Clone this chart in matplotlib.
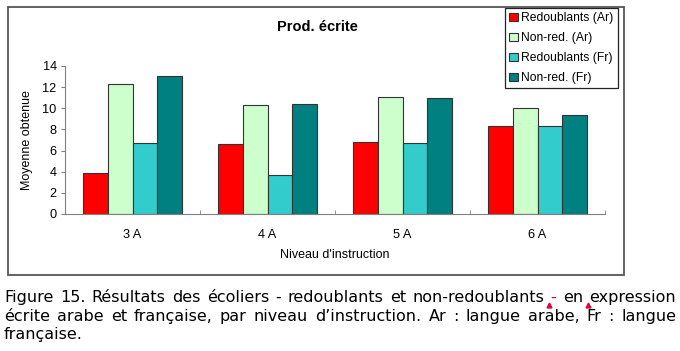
"""Prod. écrite — grouped bars by school level, with the figure caption below."""

import matplotlib

matplotlib.use("Agg")
import matplotlib.pyplot as plt
from matplotlib.lines import Line2D
from matplotlib.patches import Rectangle

levels = ["3 A", "4 A", "5 A", "6 A"]
series = ["Redoublants (Ar)", "Non-red. (Ar)", "Redoublants (Fr)", "Non-red. (Fr)"]
redoublants_ar = [3.9, 6.6, 6.85, 8.3]
nonred_ar = [12.3, 10.3, 11.1, 10.05]
redoublants_fr = [6.75, 3.7, 6.75, 8.3]
nonred_fr = [13.1, 10.4, 10.95, 9.35]
colors = ["#ff0000", "#ccffcc", "#33cccc", "#008080"]

caption_lines = [
    "Figure 15. Résultats des écoliers - redoublants et non-redoublants - en expression",
    "écrite arabe et française, par niveau d’instruction. Ar : langue arabe, Fr : langue",
    "française.",
]

W, H = 680, 351
fig = plt.figure(figsize=(W / 100, H / 100), dpi=100)
plt.rcParams["font.family"] = ["Liberation Sans", "DejaVu Sans"]

# chart frame
fig.add_artist(Rectangle((8 / W, 1 - 275 / H), 616 / W, 268 / H, transform=fig.transFigure,
                         fill=False, edgecolor="#555555", lw=1.3))

ax = fig.add_axes([65 / W, 1 - 214 / H, 540 / W, 148 / H])
w = 0.182
x = range(len(levels))
for i, (vals, lab) in enumerate(zip([redoublants_ar, nonred_ar, redoublants_fr, nonred_fr], series)):
    ax.bar([k + (i - 1.5) * w for k in x], vals, w, color=colors[i], edgecolor="#333333",
           lw=0.8, label=lab)

ax.set_xlim(-0.5, len(levels) - 0.5)
ax.set_ylim(0, 14)
ax.set_yticks(range(0, 15, 2))
ax.set_xticks(list(x))
ax.set_xticklabels(levels)
ax.set_xticks([k + 0.5 for k in x], minor=True)
ax.tick_params(axis="x", which="major", length=0, pad=11, labelsize=9.2)
ax.tick_params(axis="x", which="minor", direction="in", length=3, color="#808080")
ax.tick_params(axis="y", length=3, color="#808080", labelsize=9.2, pad=3)
for s in ["top", "right"]:
    ax.spines[s].set_visible(False)
for s in ["left", "bottom"]:
    ax.spines[s].set_color("#808080")

ax.set_ylabel("Moyenne obtenue", fontsize=9, labelpad=7)
fig.text(335 / W, 1 - 255 / H, "Niveau d'instruction", ha="center", va="center", fontsize=9)
fig.text(317 / W, 1 - 27 / H, "Prod. écrite", ha="center", va="center", fontsize=10.5,
         fontweight="bold")

leg = ax.legend(loc="upper left", bbox_to_anchor=(505 / W, 1 - 8 / H),
                bbox_transform=fig.transFigure, fontsize=8.7, frameon=True, fancybox=False,
                edgecolor="#222222", framealpha=1, handlelength=0.7, handleheight=0.7,
                handletextpad=0.3, labelspacing=0.66, borderpad=0.35, borderaxespad=0)
leg.get_frame().set_linewidth(0.9)


def justify(words, y, x0=4, x1=676, last=False):
    renderer = fig.canvas.get_renderer()
    texts = []
    for wd in words:
        col = "#e0003c" if wd == "-red" else "black"
        t = fig.text(0, 1 - y / H, "-" if wd == "-red" else wd, va="baseline",
                     fontsize=11.5, family="DejaVu Sans", color=col)
        texts.append(t)
    widths = [t.get_window_extent(renderer).width for t in texts]
    if last or len(words) < 2:
        gap = renderer.points_to_pixels(11.5) * 0.32
    else:
        gap = (x1 - x0 - sum(widths)) / (len(words) - 1)
    pos = x0
    for t, wd in zip(texts, widths):
        t.set_x(pos / W)
        pos += wd + gap


line1 = caption_lines[0].split(" ")
line1[line1.index("non-redoublants") + 1] = "-red"
justify(line1, 302)
justify(caption_lines[1].split(" "), 321)
justify(caption_lines[2].split(" "), 339, last=True)

# little red revision marks in the caption
fig.add_artist(Line2D([549 / W, 588 / W], [1 - 305 / H, 1 - 305 / H], transform=fig.transFigure,
                      ls="none", marker="^", ms=3.5, color="#e0003c"))

fig.savefig("out.png", dpi=100)
